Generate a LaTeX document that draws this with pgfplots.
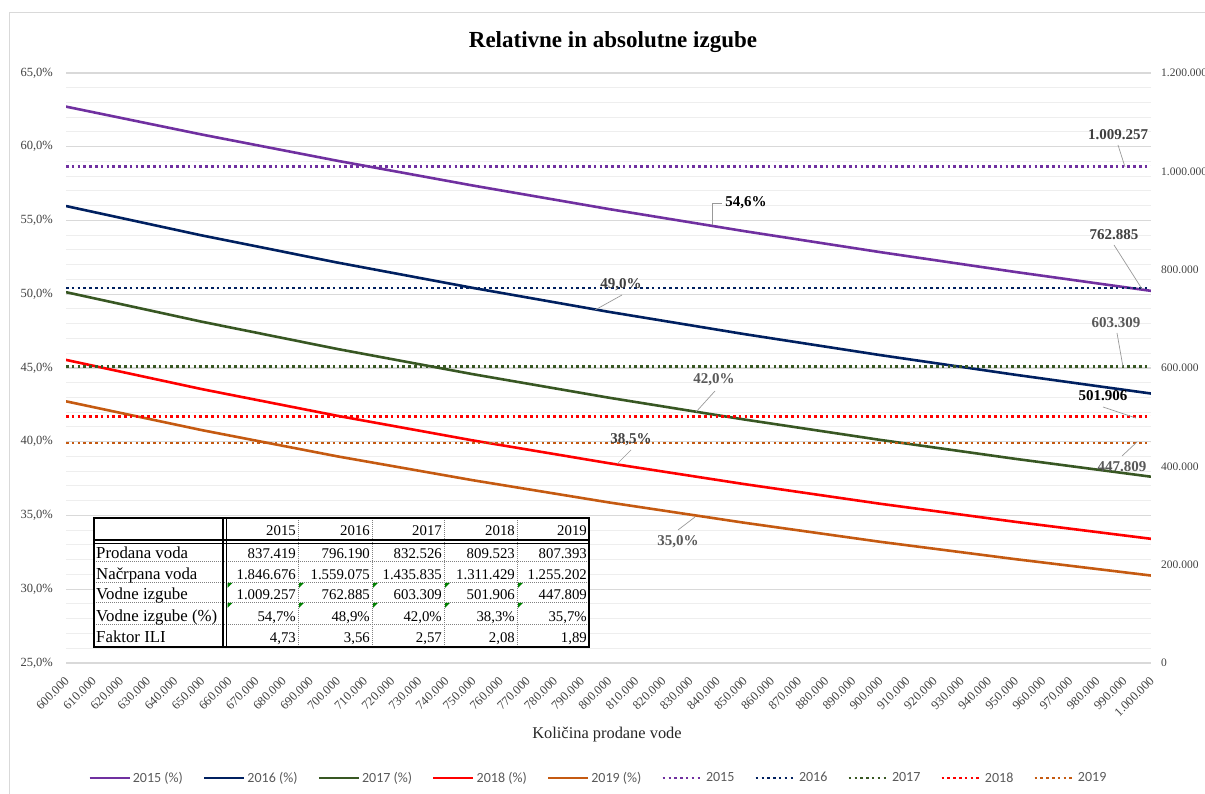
\documentclass[border=0pt]{standalone}
\usepackage{fontspec}
\setmainfont{Liberation Serif}
\newfontfamily\legendfont{Carlito}
\usepackage{pgfplots}
\pgfplotsset{compat=1.18}
\usepackage{pgfplotstable}
\definecolor{c15}{HTML}{7030A0}
\definecolor{c16}{HTML}{002060}
\definecolor{c17}{HTML}{385723}
\definecolor{c18}{HTML}{FF0000}
\definecolor{c19}{HTML}{C55A11}
\definecolor{gridmaj}{HTML}{D9D9D9}
\definecolor{gridmin}{HTML}{EEEEEE}
\definecolor{lbl}{HTML}{404040}
\definecolor{lblg}{HTML}{595959}
\definecolor{legtext}{HTML}{595959}
\definecolor{tgreen}{HTML}{008000}

\pgfplotstableread{
x y15 y16 y17 y18 y19
600 62.72 55.98 50.14 45.55 42.74
650 60.83 53.99 48.14 43.57 40.79
700 59.05 52.15 46.29 41.76 39.01
750 57.37 50.43 44.58 40.09 37.39
800 55.78 48.81 42.99 38.55 35.89
850 54.28 47.30 41.51 37.13 34.51
900 52.86 45.88 40.13 35.80 33.22
950 51.51 44.54 38.84 34.57 32.04
1000 50.23 43.27 37.63 33.42 30.93
}\pct

\pgfplotstableread{
x a15 a16 a17 a18 a19
600 1009.257 762.885 603.309 501.906 447.809
1000 1009.257 762.885 603.309 501.906 447.809
}\abs

\begin{document}
\begin{tikzpicture}[x=1pt,y=1pt]
\path[use as bounding box] (0,0) rectangle (1205,794);
\draw[gridmaj, line width=1pt] (9,-20) -- (9,781) -- (1230,781);

\begin{axis}[
  at={(66pt,131pt)}, anchor=south west, scale only axis,
  width=1085pt, height=590pt,
  xmin=600, xmax=1000, ymin=25, ymax=65,
  axis line style={draw=none},
  major tick length=0pt, minor tick length=0pt,
  /pgf/number format/assume math mode=true,
  xtick={600,610,...,1000},
  xticklabel={\pgfmathprintnumber[fixed,precision=0,1000 sep={.}]{\tick}.000},
  x tick label style={xshift=1pt, yshift=-16pt, rotate=45, anchor=east, inner sep=0pt,
    font=\fontsize{12.5}{12.5}\selectfont, text=lbl},
  ytick={25,30,...,65},
  yticklabels={{25,0\%},{30,0\%},{35,0\%},{40,0\%},{45,0\%},{50,0\%},{55,0\%},{60,0\%},{65,0\%}},
  y tick label style={inner sep=0pt, xshift=-13pt, font=\fontsize{12.5}{12.5}\selectfont, text=lbl},
  minor y tick num=4,
  ymajorgrids, yminorgrids,
  major grid style={draw=gridmaj, line width=1.3pt},
  minor grid style={draw=gridmin, line width=1pt},
]
\addplot[c15, line width=2.6pt] table[x=x,y=y15] {\pct};
\addplot[c16, line width=2.6pt] table[x=x,y=y16] {\pct};
\addplot[c17, line width=2.6pt] table[x=x,y=y17] {\pct};
\addplot[c18, line width=2.6pt] table[x=x,y=y18] {\pct};
\addplot[c19, line width=2.6pt] table[x=x,y=y19] {\pct};
\end{axis}

\begin{axis}[
  at={(66pt,131pt)}, anchor=south west, scale only axis,
  width=1085pt, height=590pt,
  xmin=600, xmax=1000, ymin=0, ymax=1200,
  axis line style={draw=none},
  major tick length=0pt, minor tick length=0pt,
  xtick=\empty,
  ytick={0,200,...,1200},
  yticklabels={0,200.000,400.000,600.000,800.000,1.000.000,1.200.000},
  yticklabel pos=right,
  y tick label style={anchor=west, inner sep=0pt, xshift=10pt, font=\fontsize{11.5}{11.5}\selectfont, text=lbl},
  legend columns=10,
  legend image code/.code={\draw[#1] (0pt,0pt) -- (40pt,0pt);},
  legend style={draw=none, fill=none, at={(0.4906,-0.1949)}, anchor=center,
    font=\legendfont\fontsize{14}{14}\selectfont, text=legtext,
    /tikz/every even column/.append style={column sep=18pt}},
  dotline/.style={line width=2.6pt, dash pattern=on 2.5pt off 3.3pt},
]
\addlegendimage{c15, line width=2.6pt}
\addlegendimage{c16, line width=2.6pt}
\addlegendimage{c17, line width=2.6pt}
\addlegendimage{c18, line width=2.6pt}
\addlegendimage{c19, line width=2.6pt}
\addplot[c15, dotline] table[x=x,y=a15] {\abs};
\addplot[c16, dotline] table[x=x,y=a16] {\abs};
\addplot[c17, dotline] table[x=x,y=a17] {\abs};
\addplot[c18, dotline] table[x=x,y=a18] {\abs};
\addplot[c19, dotline] table[x=x,y=a19] {\abs};
\legend{2015 (\%),2016 (\%),2017 (\%),2018 (\%),2019 (\%),2015,2016,2017,2018,2019}
\end{axis}

\begin{scope}[yshift=794pt, yscale=-1]
% title and axis label
\node[font=\bfseries\fontsize{23}{23}\selectfont] at (613,42) {Relativne in absolutne izgube};
\node[font=\fontsize{16.4}{16.4}\selectfont, text=black!85] at (607,735) {Količina prodane vode};

% data labels with leader lines
\tikzset{lead/.style={draw=gray!80, line width=0.7pt}, dl/.style={font=\bfseries\fontsize{15}{15}\selectfont, inner sep=0pt}}
\draw[lead] (712,225) -- (712,203) -- (722,203);
\node[dl, text=black] at (746,203) {54,6\%};
\draw[lead] (622,295) -- (595,310);
\node[dl, text=lbl] at (621,285) {49,0\%};
\draw[lead] (715,391) -- (696,412);
\node[dl, text=lblg] at (714,380) {42,0\%};
\draw[lead] (631,450) -- (617,464);
\node[dl, text=lbl] at (631,440) {38,5\%};
\draw[lead] (678,530) -- (695,517);
\node[dl, text=lblg] at (678,542) {35,0\%};
\draw[lead] (1118,145) -- (1125,167);
\node[dl, text=lbl] at (1118,135) {1.009.257};
\draw[lead] (1114,245) -- (1142,289);
\node[dl, text=lbl] at (1114,235) {762.885};
\draw[lead] (1117,333) -- (1123,367);
\node[dl, text=lblg] at (1116,323) {603.309};
\draw[lead] (1103,407) -- (1136,418);
\node[dl, text=black] at (1103,396) {501.906};
\draw[lead] (1122,456) -- (1137,442);
\node[dl, text=lblg] at (1122,467) {447.809};

% table
\fill[white] (94,518) rectangle (589,647);
\tikzset{tdot/.style={draw=gray, line width=0.8pt, dash pattern=on 1pt off 1pt}}
\foreach \xx in {298,372,444,517} \draw[tdot] (\xx,518) -- (\xx,647);
\foreach \yy in {561,582,602,624} \draw[tdot] (94,\yy) -- (589,\yy);
\draw[line width=1.2pt] (223,518) -- (223,647);
\draw[line width=1.2pt] (226.5,518) -- (226.5,647);
\draw[line width=1.2pt] (94,540) -- (589,540);
\draw[line width=1.2pt] (94,543.5) -- (589,543.5);
\draw[line width=2pt] (94,518) rectangle (589,647);
\foreach \xx in {227.5,299,373,445,518} {
  \fill[tgreen] (\xx,583) -- (\xx+5,583) -- (\xx,588) -- cycle;
  \fill[tgreen] (\xx,603) -- (\xx+5,603) -- (\xx,608) -- cycle;
}
\tikzset{tt/.style={font=\fontsize{14.8}{14.8}\selectfont, inner sep=0pt},
         th/.style={font=\fontsize{16.8}{16.8}\selectfont, inner sep=0pt}}
\def\trow#1#2#3#4#5#6#7{%
  \node[th, anchor=base west] at (96,#1) {#2};
  \node[tt, anchor=base east] at (296,#1) {#3};
  \node[tt, anchor=base east] at (370,#1) {#4};
  \node[tt, anchor=base east] at (442,#1) {#5};
  \node[tt, anchor=base east] at (515,#1) {#6};
  \node[tt, anchor=base east] at (587,#1) {#7};}
\trow{536}{}{2015}{2016}{2017}{2018}{2019}
\trow{558.5}{Prodana voda}{837.419}{796.190}{832.526}{809.523}{807.393}
\trow{579.5}{Načrpana voda}{1.846.676}{1.559.075}{1.435.835}{1.311.429}{1.255.202}
\trow{600}{Vodne izgube}{1.009.257}{762.885}{603.309}{501.906}{447.809}
\trow{621.5}{Vodne izgube (\%)}{54,7\%}{48,9\%}{42,0\%}{38,3\%}{35,7\%}
\trow{643}{Faktor ILI}{4,73}{3,56}{2,57}{2,08}{1,89}
\end{scope}
\end{tikzpicture}
\end{document}
